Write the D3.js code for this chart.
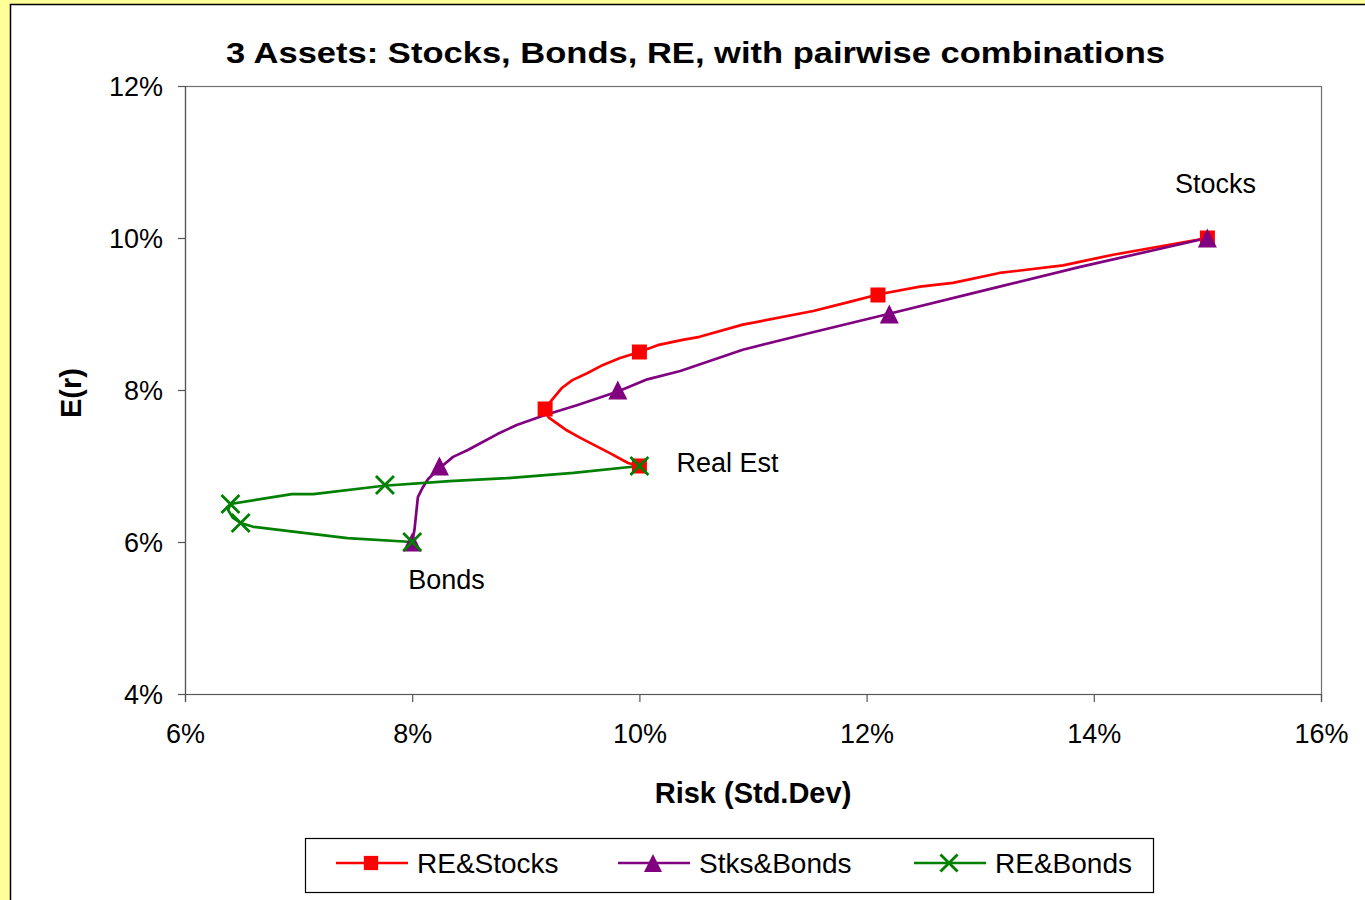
<!DOCTYPE html>
<html>
<head>
<meta charset="utf-8">
<script src="https://cdn.jsdelivr.net/npm/d3@7"></script>
<style>
  body { margin: 0; background: #ffff99; }
  svg { display: block; font-family: "Liberation Sans", Arial, sans-serif; }
</style>
</head>
<body>
<div id="chart"></div>
<script>
var svgWidth = 1365;
var svgHeight = 900;
var margin = { top: 86, right: 44, bottom: 206, left: 185 };
var chartWidth = svgWidth - margin.left - margin.right;
var chartHeight = svgHeight - margin.top - margin.bottom;

// tick values (percent)
var xTicks = [6, 8, 10, 12, 14, 16];
var yTicks = [4, 6, 8, 10, 12];

// traced lines [std dev %, E(r) %]
var reStocksLine = [[10.0, 7.0], [9.9, 7.04], [9.74, 7.17], [9.48, 7.37], [9.36, 7.47], [9.2, 7.64], [9.17, 7.76],
  [9.23, 7.87], [9.32, 8.03], [9.41, 8.13], [9.54, 8.22], [9.68, 8.33], [9.83, 8.42], [10.0, 8.5], [10.16, 8.59],
  [10.38, 8.66], [10.53, 8.7], [10.91, 8.86], [11.53, 9.04], [11.85, 9.16], [12.11, 9.26], [12.47, 9.36],
  [12.76, 9.41], [13.17, 9.54], [13.73, 9.64], [14.17, 9.78], [15.0, 10.0]];
var stksBondsLine = [[8.0, 6.0], [8.02, 6.16], [8.05, 6.59], [8.09, 6.71], [8.14, 6.83], [8.24, 6.97], [8.36, 7.12],
  [8.49, 7.21], [8.6, 7.3], [8.75, 7.42], [8.92, 7.54], [9.17, 7.67], [9.45, 7.8], [9.81, 7.98], [10.07, 8.14],
  [10.36, 8.25], [10.91, 8.53], [11.5, 8.75], [12.19, 9.0], [13.17, 9.36], [13.88, 9.62], [15.0, 10.0]];
var reBondsLine = [[10.0, 7.0], [9.42, 6.91], [8.83, 6.84], [8.33, 6.8], [7.75, 6.74], [7.13, 6.63], [6.94, 6.63],
  [6.4, 6.5], [6.38, 6.42], [6.42, 6.32], [6.49, 6.25], [6.6, 6.2], [6.99, 6.13], [7.43, 6.05], [8.0, 6.0]];

// marked portfolios
var reStocksMarks = [[10.0, 7.0], [9.17, 7.75], [10.0, 8.5], [12.1, 9.25], [15.0, 10.0]];
var stksBondsMarks = [[8.0, 6.0], [8.24, 7.0], [9.81, 8.0], [12.2, 9.0], [15.0, 10.0]];
var reBondsMarks = [[10.0, 7.0], [7.76, 6.75], [6.4, 6.5], [6.49, 6.25], [8.0, 6.0]];

var seriesNames = ["RE&Stocks", "Stks&Bonds", "RE&Bonds"];
var seriesColors = ["#ff0000", "#800080", "#008000"];

var assetNames = ["Stocks", "Real Est", "Bonds"];
var assetPoints = [[15, 10], [10, 7], [8, 6]];

var svg = d3.select("#chart").append("svg")
  .attr("width", svgWidth)
  .attr("height", svgHeight);

// chart area
svg.append("rect")
  .attr("x", 10.5).attr("y", 4.5)
  .attr("width", svgWidth + 20).attr("height", svgHeight + 20)
  .attr("fill", "#ffffff")
  .attr("stroke", "#000000")
  .attr("stroke-width", 1.5);

var chartGroup = svg.append("g")
  .attr("transform", "translate(" + margin.left + "," + margin.top + ")");

var xScale = d3.scaleLinear().domain([6, 16]).range([0, chartWidth]);
var yScale = d3.scaleLinear().domain([4, 12]).range([chartHeight, 0]);

var bottomAxis = d3.axisBottom(xScale).tickValues(xTicks).tickSize(8).tickPadding(22)
  .tickFormat(function (d) { return d + "%"; });
var leftAxis = d3.axisLeft(yScale).tickValues(yTicks).tickSize(7).tickPadding(15)
  .tickFormat(function (d) { return d + "%"; });

chartGroup.append("rect")
  .attr("x", 0.5).attr("y", 0.5)
  .attr("width", chartWidth).attr("height", chartHeight)
  .attr("fill", "none")
  .attr("stroke", "#707070")
  .attr("stroke-width", 1.2);

var gx = chartGroup.append("g")
  .attr("transform", "translate(0," + chartHeight + ")")
  .call(bottomAxis);
var gy = chartGroup.append("g").call(leftAxis);

[gx, gy].forEach(function (g) {
  g.select(".domain").attr("stroke", "#555").attr("stroke-width", 1.2);
  g.selectAll(".tick line").attr("stroke", "#555").attr("stroke-width", 1.2);
  g.selectAll(".tick text")
    .attr("font-family", "Liberation Sans, Arial, sans-serif")
    .attr("font-size", "27px")
    .attr("fill", "#000");
});
gy.selectAll(".tick text").attr("dy", "0.36em");

var line = d3.line()
  .x(function (d) { return xScale(d[0]); })
  .y(function (d) { return yScale(d[1]); });

var lines = [reStocksLine, stksBondsLine, reBondsLine];
var marks = [reStocksMarks, stksBondsMarks, reBondsMarks];

lines.forEach(function (data, i) {
  chartGroup.append("path")
    .datum(data)
    .attr("d", line)
    .attr("fill", "none")
    .attr("stroke", seriesColors[i])
    .attr("stroke-width", 2.7)
    .attr("stroke-linejoin", "round");
});

function drawMarker(g, kind, cx, cy, color, scale) {
  scale = scale || 1;
  if (kind === 0) {
    var s = 15 * scale;
    g.append("rect")
      .attr("x", cx - s / 2).attr("y", cy - s / 2)
      .attr("width", s).attr("height", s)
      .attr("fill", color);
  } else if (kind === 1) {
    var h = 9.5 * scale;
    g.append("path")
      .attr("d", "M" + cx + "," + (cy - h) + "L" + (cx + h) + "," + (cy + h) + "L" + (cx - h) + "," + (cy + h) + "Z")
      .attr("fill", color);
  } else {
    var r = 9 * scale;
    g.append("path")
      .attr("d", "M" + (cx - r) + "," + (cy - r) + "L" + (cx + r) + "," + (cy + r) +
        "M" + (cx - r) + "," + (cy + r) + "L" + (cx + r) + "," + (cy - r))
      .attr("stroke", color)
      .attr("stroke-width", 2.8)
      .attr("fill", "none");
  }
}

marks.forEach(function (data, i) {
  data.forEach(function (d) {
    drawMarker(chartGroup, i, xScale(d[0]), yScale(d[1]), seriesColors[i]);
  });
});

// asset labels
var labelOffsets = [[8, -45, "middle"], [37, 6, "start"], [-4, 47, "start"]];
assetNames.forEach(function (name, i) {
  chartGroup.append("text")
    .attr("x", xScale(assetPoints[i][0]) + labelOffsets[i][0])
    .attr("y", yScale(assetPoints[i][1]) + labelOffsets[i][1])
    .attr("text-anchor", labelOffsets[i][2])
    .attr("font-size", "27px")
    .text(name);
});

// title
svg.append("text")
  .attr("x", 226)
  .attr("y", 63)
  .attr("font-size", "29px")
  .attr("font-weight", "bold")
  .attr("textLength", 939)
  .attr("lengthAdjust", "spacingAndGlyphs")
  .text("3 Assets: Stocks, Bonds, RE, with pairwise combinations");

// axis titles
svg.append("text")
  .attr("x", 753)
  .attr("y", 803)
  .attr("text-anchor", "middle")
  .attr("font-size", "29px")
  .attr("font-weight", "bold")
  .text("Risk (Std.Dev)");

svg.append("text")
  .attr("transform", "translate(81,393) rotate(-90)")
  .attr("text-anchor", "middle")
  .attr("font-size", "29px")
  .attr("font-weight", "bold")
  .text("E(r)");

// legend
var legend = svg.append("g");
legend.append("rect")
  .attr("x", 305.5).attr("y", 838.5)
  .attr("width", 848).attr("height", 54)
  .attr("fill", "#ffffff")
  .attr("stroke", "#000000")
  .attr("stroke-width", 1.2);

var legendX = [336, 618, 914];
seriesNames.forEach(function (name, i) {
  legend.append("line")
    .attr("x1", legendX[i]).attr("x2", legendX[i] + 72)
    .attr("y1", 863).attr("y2", 863)
    .attr("stroke", seriesColors[i])
    .attr("stroke-width", 2.6);
  drawMarker(legend, i, legendX[i] + 35, 863, seriesColors[i], 0.95);
  legend.append("text")
    .attr("x", legendX[i] + 81)
    .attr("y", 873)
    .attr("font-size", "28px")
    .text(name);
});
</script>
</body>
</html>
